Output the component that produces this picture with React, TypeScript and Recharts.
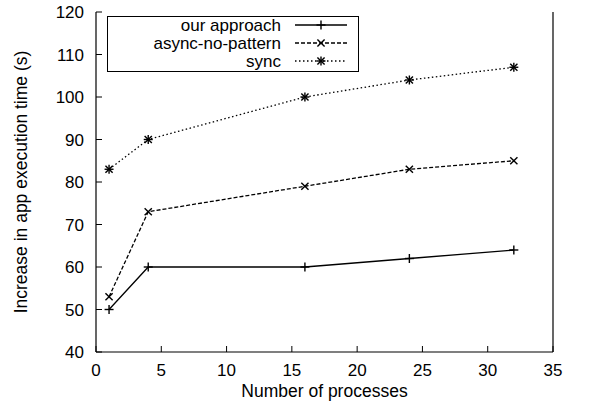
import { Line, LineChart, XAxis, YAxis } from "recharts";

const processes = [1, 4, 16, 24, 32];
const ourApproach = [50, 60, 60, 62, 64];
const asyncNoPattern = [53, 73, 79, 83, 85];
const syncTimes = [83, 90, 100, 104, 107];

const xTicks = [0, 5, 10, 15, 20, 25, 30, 35];
const yTicks = [40, 50, 60, 70, 80, 90, 100, 110, 120];

const seriesNames = ["our approach", "async-no-pattern", "sync"];

const data = processes.map((p, i) => ({
  p,
  ours: ourApproach[i],
  async: asyncNoPattern[i],
  sync: syncTimes[i],
}));

const FONT = "'Liberation Sans', Arial, sans-serif";
const TICK = 6;

const series = [
  { key: "ours", name: seriesNames[0], dash: undefined, marker: "plus" },
  { key: "async", name: seriesNames[1], dash: "4 2", marker: "cross" },
  { key: "sync", name: seriesNames[2], dash: "1.5 2.5", marker: "star" },
];

const Marker = ({ cx, cy, kind }: { cx: number; cy: number; kind: string }) => {
  const s = 4.5;
  const c = 3.6;
  return (
    <g stroke="#000" strokeWidth={1.4} fill="none">
      {(kind === "plus" || kind === "star") && (
        <>
          <line x1={cx - s} y1={cy} x2={cx + s} y2={cy} />
          <line x1={cx} y1={cy - s} x2={cx} y2={cy + s} />
        </>
      )}
      {(kind === "cross" || kind === "star") && (
        <>
          <line x1={cx - c} y1={cy - c} x2={cx + c} y2={cy + c} />
          <line x1={cx - c} y1={cy + c} x2={cx + c} y2={cy - c} />
        </>
      )}
    </g>
  );
};

const BottomTick = (props: any) => {
  const { x, y, payload } = props;
  return (
    <g>
      <line x1={x} y1={y} x2={x} y2={y - TICK} stroke="#000" />
      <text x={x} y={y + 24} textAnchor="middle" fontSize={17} fontFamily={FONT} fill="#000">
        {payload.value}
      </text>
    </g>
  );
};

const TopTick = (props: any) => {
  const { x, y } = props;
  return <line x1={x} y1={y} x2={x} y2={y + TICK} stroke="#000" />;
};

const LeftTick = (props: any) => {
  const { x, y, payload } = props;
  return (
    <g>
      <line x1={x} y1={y} x2={x + TICK} y2={y} stroke="#000" />
      <text x={x - 12} y={y + 6} textAnchor="end" fontSize={17} fontFamily={FONT} fill="#000">
        {payload.value}
      </text>
    </g>
  );
};

const RightTick = (props: any) => {
  const { x, y } = props;
  return <line x1={x} y1={y} x2={x - TICK} y2={y} stroke="#000" />;
};

const LegendBox = () => (
  <svg
    width={252}
    height={56}
    style={{ position: "absolute", left: 107, top: 16, pointerEvents: "none" }}
  >
    <rect x={0.5} y={0.5} width={251} height={55} fill="#fff" stroke="#000" />
    {series.map((s, i) => {
      const cy = 9 + i * 18;
      return (
        <g key={s.key}>
          <text x={174} y={cy + 6} textAnchor="end" fontSize={17} fontFamily={FONT} fill="#000">
            {s.name}
          </text>
          <line
            x1={188}
            y1={cy}
            x2={240}
            y2={cy}
            stroke="#000"
            strokeWidth={1.3}
            strokeDasharray={s.dash}
          />
          <Marker cx={214} cy={cy} kind={s.marker} />
        </g>
      );
    })}
  </svg>
);

const App = () => {
  return (
    <div style={{ position: "absolute", left: 0, top: 0, width: 605, height: 411, background: "#fff" }}>
      <LineChart
        width={605}
        height={411}
        data={data}
        margin={{ top: 12, right: 0, bottom: 0, left: 0 }}
      >
        <XAxis
          xAxisId="bottom"
          dataKey="p"
          type="number"
          domain={[0, 35]}
          ticks={xTicks}
          orientation="bottom"
          height={59}
          tickSize={0}
          tickMargin={0}
          tickLine={false}
          axisLine={{ stroke: "#000", strokeWidth: 1.2 }}
          tick={<BottomTick />}
          interval={0}
          label={{
            value: "Number of processes",
            position: "insideBottom",
            offset: 14,
            fontSize: 17.5,
            fontFamily: FONT,
            fill: "#000",
          }}
        />
        <XAxis
          xAxisId="top"
          dataKey="p"
          type="number"
          domain={[0, 35]}
          ticks={xTicks}
          orientation="top"
          height={0}
          tickSize={0}
          tickMargin={0}
          tickLine={false}
          axisLine={{ stroke: "#000", strokeWidth: 1.2 }}
          tick={<TopTick />}
          interval={0}
        />
        <YAxis
          yAxisId="left"
          type="number"
          domain={[40, 120]}
          ticks={yTicks}
          orientation="left"
          width={96}
          tickSize={0}
          tickMargin={0}
          tickLine={false}
          axisLine={{ stroke: "#000", strokeWidth: 1.2 }}
          tick={<LeftTick />}
          interval={0}
          label={{
            value: "Increase in app execution time (s)",
            angle: -90,
            position: "insideLeft",
            offset: 21,
            style: { textAnchor: "middle" },
            fontSize: 17.5,
            fontFamily: FONT,
            fill: "#000",
          }}
        />
        <YAxis
          yAxisId="right"
          type="number"
          domain={[40, 120]}
          ticks={yTicks}
          orientation="right"
          width={52}
          tickSize={0}
          tickMargin={0}
          tickLine={false}
          axisLine={{ stroke: "#000", strokeWidth: 1.2 }}
          tick={<RightTick />}
          interval={0}
        />
        {series.map((s) => (
          <Line
            key={s.key}
            xAxisId="bottom"
            yAxisId="left"
            dataKey={s.key}
            name={s.name}
            type="linear"
            stroke="#000"
            strokeWidth={1.3}
            strokeDasharray={s.dash}
            isAnimationActive={false}
            dot={(p: any) => (
              <g key={`${s.key}-${p.index}`}>
                <Marker cx={p.cx} cy={p.cy} kind={s.marker} />
              </g>
            )}
            activeDot={false}
          />
        ))}
      </LineChart>
      <LegendBox />
    </div>
  );
};

export default App;
